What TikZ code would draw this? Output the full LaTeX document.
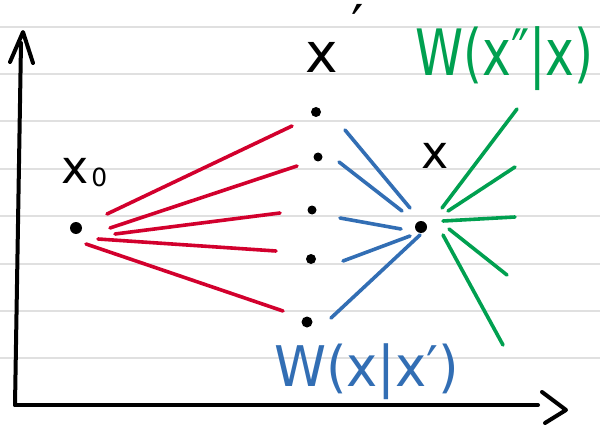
\documentclass[tikz,border=0pt]{standalone}
\usepackage{fontspec}
\newfontfamily\hand{DejaVu Sans}
\definecolor{pred}{RGB}{210,0,45}
\definecolor{pblue}{RGB}{50,110,180}
\definecolor{pgreen}{RGB}{0,160,80}
\definecolor{ruleg}{RGB}{224,224,224}
\begin{document}
\begin{tikzpicture}[x=1pt,y=-1pt,line cap=round,line join=round,
  ruled/.style={draw=ruleg,line width=2pt,line cap=butt},
  axis/.style={draw=black,line width=4pt},
  redl/.style={draw=pred,line width=3.6pt},
  bluel/.style={draw=pblue,line width=3.6pt},
  greenl/.style={draw=pgreen,line width=3.6pt},
  dotn/.style={circle,fill=black,inner sep=0pt,minimum size=10pt},
  txt/.style={inner sep=0pt,anchor=base west,font=\hand}]
\useasboundingbox (0,0) rectangle (600,425);
\fill[white] (0,0) rectangle (600,425);
\foreach \y in {27,74,121,169,216,264,311,358}
  \draw[ruled] (0,\y) -- (600,\y);
% axes
\coordinate (o) at (15,405);
\coordinate (ytop) at (21,43);
\coordinate (xend) at (538,405);
\draw[axis] (o) -- (ytop);
\draw[axis] (10,62) -- (23,32) -- (33,63);
\draw[axis] (o) -- (xend);
\draw[axis] (542,392) -- (566,410) -- (545,423);
% dots
\node[dotn,minimum size=12pt] (x0) at (76,228) {};
\node[dotn] (p1) at (316,112) {};
\node[dotn,minimum size=9pt] (p2) at (318,157) {};
\node[dotn,minimum size=9pt] (p3) at (312,210) {};
\node[dotn] (p4) at (311,259) {};
\node[dotn,minimum size=11pt] (p5) at (307,322) {};
\node[dotn,minimum size=12pt] (x) at (421,227) {};
% red lines
\draw[redl] (107,214) -- (292,126);
\draw[redl] (110,228) -- (297,166);
\draw[redl] (115,234) -- (280,213);
\draw[redl] (98,239) -- (276,251);
\draw[redl] (86,244) -- (283,311);
% blue lines
\draw[bluel] (345,130) -- (410,208);
\draw[bluel] (339,162) -- (402,211);
\draw[bluel] (340,218) -- (401,229);
\draw[bluel] (343,261) -- (410,236);
\draw[bluel] (331,318) -- (420,235);
% green lines
\draw[greenl] (442,208) -- (517,109);
\draw[greenl] (448,211) -- (515,167);
\draw[greenl] (443,221) -- (515,217);
\draw[greenl] (449,229) -- (507,275);
\draw[greenl] (443,235) -- (503,345);
% labels
\node[txt] (lx0) at (61,183) {\fontsize{46}{46}\selectfont x\kern3pt\raisebox{-3pt}{\fontsize{25}{25}\selectfont 0}};
\node[txt] (lxp) at (305,73) {\fontsize{55}{55}\selectfont x\kern14pt\raisebox{28pt}{′}};
\node[txt] (lx) at (421,168) {\fontsize{46}{46}\selectfont x};
\node[txt,text=pgreen] (lg) at (415,76) {\scalebox{0.76}[1]{\fontsize{64}{64}\selectfont W(x″|x)}};
\node[txt,text=pblue] (lb) at (274,386) {\scalebox{0.94}[1]{\fontsize{56}{56}\selectfont W(x|x′)}};
\end{tikzpicture}
\end{document}
